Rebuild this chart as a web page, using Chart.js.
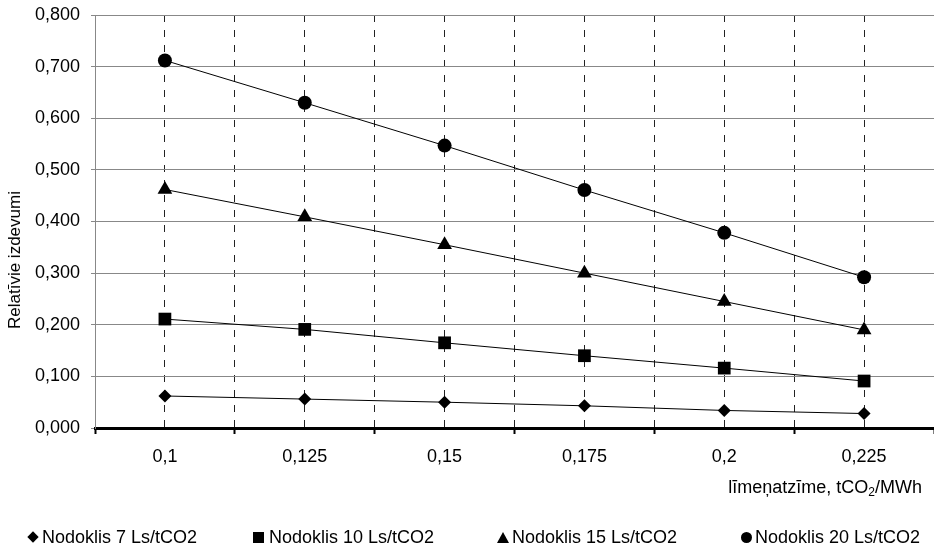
<!DOCTYPE html>
<html>
<head>
<meta charset="utf-8">
<script src="https://cdn.jsdelivr.net/npm/chart.js@4/dist/chart.umd.min.js"></script>
<style>
  html, body { margin: 0; padding: 0; background: #fff; }
  #wrap { position: relative; width: 934px; height: 549px; font-family: "Liberation Sans", Arial, sans-serif; color: #000; }
  #chart { position: absolute; left: 0; top: 0; }
  .ytitle { position: absolute; left: 15px; top: 260px; font-size: 17px; white-space: nowrap;
            transform: translate(-50%, -50%) rotate(-90deg); }
  .xtitle { position: absolute; right: 12px; top: 477px; font-size: 18px; white-space: nowrap; }
  .xtitle sub { font-size: 12px; vertical-align: -3px; line-height: 0; }
  .leg { position: absolute; top: 527px; font-size: 18px; white-space: nowrap; line-height: 20px; }
  .mk { display: inline-block; vertical-align: middle; margin-right: 3px; position: relative; top: -1px; }
  .mk.diamond { width: 8px; height: 8px; background: #000; transform: rotate(45deg); margin: 0 5px 0 3px; }
  .mk.square { width: 11px; height: 11px; background: #000; margin-right: 5px; }
  .mk.triangle { width: 0; height: 0; border-left: 6px solid transparent; border-right: 6px solid transparent; border-bottom: 11px solid #000; margin-right: 3px; }
  .mk.circle { width: 11px; height: 11px; background: #000; border-radius: 50%; margin-right: 3px; }
</style>
</head>
<body>
<div id="wrap">
  <canvas id="chart" width="934" height="549"></canvas>
  <div class="ytitle">Relatīvie izdevumi</div>
  <div class="xtitle">līmeņatzīme, tCO<sub>2</sub>/MWh</div>
</div>
<script>
// izmešu līmeņatzīme, tCO2/MWh
var categories = [0.1, 0.125, 0.15, 0.175, 0.2, 0.225];
var tickLabels = ['0,1', '0,125', '0,15', '0,175', '0,2', '0,225'];

var seriesNames = ['Nodoklis 7 Ls/tCO2', 'Nodoklis 10 Ls/tCO2', 'Nodoklis 15 Ls/tCO2', 'Nodoklis 20 Ls/tCO2'];
var nodoklis7 = [0.062, 0.056, 0.050, 0.043, 0.034, 0.028];
var nodoklis10 = [0.211, 0.191, 0.165, 0.140, 0.116, 0.091];
var nodoklis15 = [0.462, 0.409, 0.355, 0.300, 0.245, 0.190];
var nodoklis20 = [0.712, 0.630, 0.547, 0.461, 0.378, 0.292];

var markers = ['rectRot', 'rect', 'triangle', 'circle'];
var markerSize = [6.5, 9, 8.5, 7];
var legendClass = ['diamond', 'square', 'triangle', 'circle'];
var legendLeft = [26, 253, 497, 741];

// ticks: category centres plus the boundaries between them
var step = categories[1] - categories[0];
var xTicks = [];
categories.forEach(function (c) { xTicks.push(c - step / 2, c); });
xTicks.push(categories[categories.length - 1] + step / 2);

function toPoints(values) {
    return values.map(function (v, i) { return { x: categories[i], y: v }; });
}

var series = [nodoklis7, nodoklis10, nodoklis15, nodoklis20];
var datasets = series.map(function (values, i) {
    return {
        label: seriesNames[i],
        data: toPoints(values),
        borderColor: '#000',
        borderWidth: 1,
        backgroundColor: '#000',
        pointStyle: markers[i],
        pointRadius: markerSize[i],
        pointHoverRadius: markerSize[i],
        pointBackgroundColor: '#000',
        pointBorderColor: '#000',
        pointBorderWidth: 0,
        tension: 0
    };
});

var font = { family: '"Liberation Sans", Arial, sans-serif', size: 18 };

new Chart(document.getElementById('chart').getContext('2d'), {
    type: 'line',
    data: { datasets: datasets },
    options: {
        responsive: false,
        animation: false,
        events: [],
        layout: { autoPadding: false, padding: { left: 0, right: 0, top: 15, bottom: 49 } },
        plugins: { legend: { display: false }, tooltip: { enabled: false } },
        scales: {
            x: {
                type: 'linear',
                min: xTicks[0],
                max: xTicks[xTicks.length - 1],
                afterBuildTicks: function (scale) {
                    scale.ticks = xTicks.map(function (v) { return { value: v }; });
                },
                afterFit: function (scale) {
                    scale.height = 72;
                    scale.paddingLeft = 0;
                    scale.paddingRight = 0;
                },
                border: { display: true, color: '#000', width: 3, dash: [7, 8] },
                grid: {
                    drawTicks: true,
                    tickLength: 6,
                    tickWidth: 2,
                    tickBorderDash: [],
                    lineWidth: 1,
                    color: function (ctx) {
                        var i = ctx.index;
                        return (i === 0 || i === xTicks.length - 1) ? 'rgba(0,0,0,0)' : '#222';
                    },
                    tickColor: function (ctx) {
                        return ctx.index % 2 === 0 ? '#000' : 'rgba(0,0,0,0)';
                    }
                },
                ticks: {
                    autoSkip: false,
                    maxRotation: 0,
                    padding: 12,
                    color: '#000',
                    font: font,
                    callback: function (value, index) {
                        return index % 2 === 1 ? tickLabels[(index - 1) / 2] : '';
                    }
                }
            },
            y: {
                min: 0,
                max: 0.8,
                afterFit: function (scale) {
                    scale.width = 95;
                    scale.paddingTop = 0;
                    scale.paddingBottom = 0;
                },
                border: { display: true, color: '#888', width: 1 },
                grid: { color: '#888', lineWidth: 1, tickLength: 4 },
                ticks: {
                    stepSize: 0.1,
                    padding: 11,
                    color: '#000',
                    font: font,
                    callback: function (v) { return v.toFixed(3).replace('.', ','); }
                }
            }
        }
    }
});

// legend below the plot
var wrap = document.getElementById('wrap');
seriesNames.forEach(function (name, i) {
    var item = document.createElement('div');
    item.className = 'leg';
    item.style.left = legendLeft[i] + 'px';
    var mk = document.createElement('span');
    mk.className = 'mk ' + legendClass[i];
    item.appendChild(mk);
    item.appendChild(document.createTextNode(name));
    wrap.appendChild(item);
});
</script>
</body>
</html>
